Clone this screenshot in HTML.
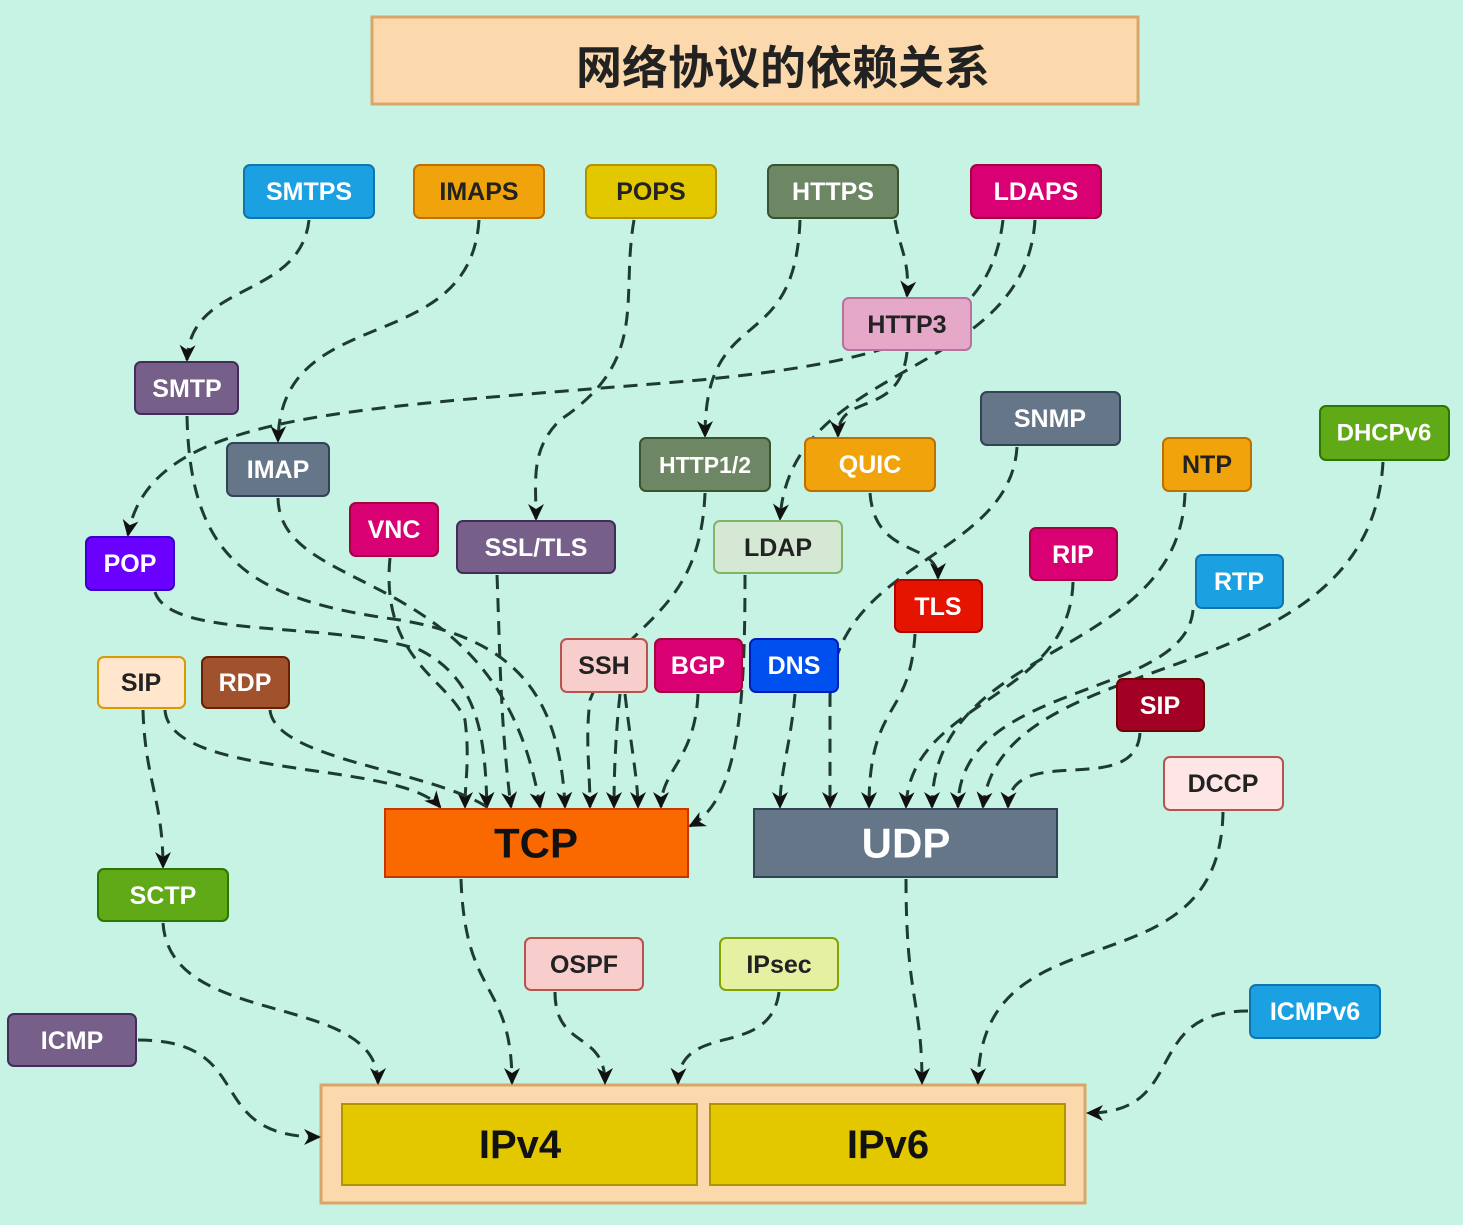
<!DOCTYPE html>
<html><head><meta charset="utf-8"><style>
html,body{margin:0;padding:0;background:#c6f3e3;}
svg{display:block}
.n{stroke-width:2;rx:6}
text{font-family:"Liberation Sans","Noto Sans CJK SC",sans-serif;font-weight:bold;text-anchor:middle;dominant-baseline:central}
.e{fill:none;stroke:#1e3b32;stroke-width:3;stroke-dasharray:14 9;marker-end:url(#a2)}
</style></head><body>
<svg width="1463" height="1225" viewBox="0 0 1463 1225">
<defs>
<marker id="a2" markerWidth="18" markerHeight="18" refX="15" refY="9" orient="auto" markerUnits="userSpaceOnUse"><path d="M0,1 L17,9 L0,17 L5,9z" fill="#111"/></marker></defs>
<rect width="1463" height="1225" fill="#c6f3e3"/>
<rect x="372" y="17" width="766" height="87" fill="#fbd9ad" stroke="#d9a66a" stroke-width="3"/>
<text x="783" y="68" font-size="46" fill="#222">网络协议的依赖关系</text>
<rect x="321" y="1085" width="764" height="118" fill="#fbd9ad" stroke="#d9a66a" stroke-width="3"/>
<rect x="342" y="1104" width="355" height="81" fill="#e3c800" stroke="#b09500" stroke-width="2"/>
<rect x="710" y="1104" width="355" height="81" fill="#e3c800" stroke="#b09500" stroke-width="2"/>
<text x="520" y="1145" font-size="40" fill="#111">IPv4</text>
<text x="888" y="1145" font-size="40" fill="#111">IPv6</text>
<g>
<path class="e" d="M309,220 C300,300 190,280 187,360"/>
<path class="e" d="M479,220 C470,360 280,300 278,441"/>
<path class="e" d="M634,220 C620,300 650,360 560,420 C530,450 536,480 536,519"/>
<path class="e" d="M800,220 C795,360 705,300 705,436"/>
<path class="e" d="M895,220 C900,250 910,260 907,296"/>
<path class="e" d="M1003,220 C990,330 900,360 700,380 C350,410 150,410 128,535"/>
<path class="e" d="M1035,220 C1025,380 790,360 780,519"/>
<path class="e" d="M907,352 C900,420 838,390 838,436"/>
<path class="e" d="M870,493 C875,560 938,540 938,578"/>
<path class="e" d="M187,416 C190,560 250,600 400,620 C520,640 560,700 565,807"/>
<path class="e" d="M278,498 C280,600 500,560 540,807"/>
<path class="e" d="M155,592 C170,640 330,620 420,650 C480,680 485,740 487,807"/>
<path class="e" d="M390,558 C380,660 450,680 465,720 C470,760 465,780 465,807"/>
<path class="e" d="M497,575 C500,650 500,720 511,807"/>
<path class="e" d="M705,493 C700,620 620,620 590,700 C585,740 590,770 590,807"/>
<path class="e" d="M620,694 C615,740 614,780 614,807"/>
<path class="e" d="M625,694 C630,740 638,780 638,807"/>
<path class="e" d="M698,694 C695,760 661,770 661,807"/>
<path class="e" d="M745,575 C745,700 740,800 690,826"/>
<path class="e" d="M165,710 C170,780 400,760 440,807"/>
<path class="e" d="M270,710 C275,760 430,770 487,807" style="marker-end:none"/>
<path class="e" d="M143,710 C145,780 163,800 163,867"/>
<path class="e" d="M795,694 C790,750 780,770 780,807"/>
<path class="e" d="M1017,447 C1010,560 830,560 830,700 C830,760 830,780 830,807"/>
<path class="e" d="M915,634 C910,720 869,700 869,807"/>
<path class="e" d="M1073,582 C1070,700 910,700 906,807"/>
<path class="e" d="M1185,493 C1180,660 932,640 932,807"/>
<path class="e" d="M1193,610 C1185,700 958,680 958,807"/>
<path class="e" d="M1383,462 C1370,700 1000,640 983,807"/>
<path class="e" d="M1140,733 C1135,800 1010,740 1008,807"/>
<path class="e" d="M461,879 C465,1000 512,980 512,1083"/>
<path class="e" d="M906,879 C906,1000 922,1000 922,1083"/>
<path class="e" d="M163,923 C170,1030 378,990 378,1083"/>
<path class="e" d="M138,1040 C260,1040 200,1137 319,1137"/>
<path class="e" d="M555,992 C555,1050 605,1030 605,1083"/>
<path class="e" d="M779,992 C770,1060 680,1020 678,1083"/>
<path class="e" d="M1223,812 C1220,1000 980,900 978,1083"/>
<path class="e" d="M1248,1011 C1140,1011 1190,1113 1088,1113"/>
</g>
<g font-size="25">
<rect class="n" x="244" y="165" width="130" height="53" fill="#1ba1e2" stroke="#0f75b0"/><text x="309" y="192" fill="#fff">SMTPS</text>
<rect class="n" x="414" y="165" width="130" height="53" fill="#f0a30a" stroke="#bd7000"/><text x="479" y="192" fill="#222">IMAPS</text>
<rect class="n" x="586" y="165" width="130" height="53" fill="#e3c800" stroke="#b09500"/><text x="651" y="192" fill="#222">POPS</text>
<rect class="n" x="768" y="165" width="130" height="53" fill="#6d8764" stroke="#3a5431"/><text x="833" y="192" fill="#fff">HTTPS</text>
<rect class="n" x="971" y="165" width="130" height="53" fill="#d80073" stroke="#a50040"/><text x="1036" y="192" fill="#fff">LDAPS</text>
<rect class="n" x="843" y="298" width="128" height="52" fill="#e6a8c8" stroke="#b5739d"/><text x="907" y="325" fill="#222">HTTP3</text>
<rect class="n" x="135" y="362" width="103" height="52" fill="#76608a" stroke="#432d57"/><text x="187" y="389" fill="#fff">SMTP</text>
<rect class="n" x="227" y="443" width="102" height="53" fill="#647687" stroke="#314354"/><text x="278" y="470" fill="#fff">IMAP</text>
<rect class="n" x="640" y="438" width="130" height="53" fill="#6d8764" stroke="#3a5431"/><text x="705" y="465" fill="#fff" font-size="23">HTTP1/2</text>
<rect class="n" x="805" y="438" width="130" height="53" fill="#f0a30a" stroke="#bd7000"/><text x="870" y="465" fill="#fff">QUIC</text>
<rect class="n" x="981" y="392" width="139" height="53" fill="#647687" stroke="#314354"/><text x="1050" y="419" fill="#fff">SNMP</text>
<rect class="n" x="1163" y="438" width="88" height="53" fill="#f0a30a" stroke="#bd7000"/><text x="1207" y="465" fill="#222">NTP</text>
<rect class="n" x="1320" y="406" width="129" height="54" fill="#60a917" stroke="#2d7600"/><text x="1384" y="433" fill="#fff" font-size="24">DHCPv6</text>
<rect class="n" x="350" y="503" width="88" height="53" fill="#d80073" stroke="#a50040"/><text x="394" y="530" fill="#fff">VNC</text>
<rect class="n" x="457" y="521" width="158" height="52" fill="#76608a" stroke="#432d57"/><text x="536" y="548" fill="#fff">SSL/TLS</text>
<rect class="n" x="714" y="521" width="128" height="52" fill="#d5e8d4" stroke="#82b366"/><text x="778" y="548" fill="#222">LDAP</text>
<rect class="n" x="86" y="537" width="88" height="53" fill="#6a00ff" stroke="#3700cc"/><text x="130" y="564" fill="#fff">POP</text>
<rect class="n" x="1030" y="528" width="87" height="52" fill="#d80073" stroke="#a50040"/><text x="1073" y="555" fill="#fff">RIP</text>
<rect class="n" x="1196" y="555" width="87" height="53" fill="#1ba1e2" stroke="#0f75b0"/><text x="1239" y="582" fill="#fff">RTP</text>
<rect class="n" x="895" y="580" width="87" height="52" fill="#e51400" stroke="#b20000"/><text x="938" y="607" fill="#fff">TLS</text>
<rect class="n" x="561" y="639" width="86" height="53" fill="#f8cecc" stroke="#b85450"/><text x="604" y="666" fill="#222">SSH</text>
<rect class="n" x="655" y="639" width="87" height="53" fill="#d80073" stroke="#a50040"/><text x="698" y="666" fill="#fff">BGP</text>
<rect class="n" x="750" y="639" width="88" height="53" fill="#0050ef" stroke="#001dbc"/><text x="794" y="666" fill="#fff">DNS</text>
<rect class="n" x="98" y="657" width="87" height="51" fill="#ffe6cc" stroke="#d79b00"/><text x="141" y="683" fill="#222">SIP</text>
<rect class="n" x="202" y="657" width="87" height="51" fill="#a0522d" stroke="#6d1f00"/><text x="245" y="683" fill="#fff">RDP</text>
<rect class="n" x="1117" y="679" width="87" height="52" fill="#a20025" stroke="#6f0000"/><text x="1160" y="706" fill="#fff">SIP</text>
<rect class="n" x="1164" y="757" width="119" height="53" fill="#ffe6e6" stroke="#b85450"/><text x="1223" y="784" fill="#222">DCCP</text>
<rect class="n" x="98" y="869" width="130" height="52" fill="#60a917" stroke="#2d7600"/><text x="163" y="896" fill="#fff">SCTP</text>
<rect class="n" x="525" y="938" width="118" height="52" fill="#f8cecc" stroke="#b85450"/><text x="584" y="965" fill="#222">OSPF</text>
<rect class="n" x="720" y="938" width="118" height="52" fill="#e6f0a3" stroke="#82a300"/><text x="779" y="965" fill="#222">IPsec</text>
<rect class="n" x="8" y="1014" width="128" height="52" fill="#76608a" stroke="#432d57"/><text x="72" y="1041" fill="#fff">ICMP</text>
<rect class="n" x="1250" y="985" width="130" height="53" fill="#1ba1e2" stroke="#0f75b0"/><text x="1315" y="1012" fill="#fff">ICMPv6</text>
</g>
<rect x="385" y="809" width="303" height="68" fill="#fa6800" stroke="#c73500" stroke-width="2"/>
<text x="536" y="843" font-size="42" fill="#111">TCP</text>
<rect x="754" y="809" width="303" height="68" fill="#647687" stroke="#314354" stroke-width="2"/>
<text x="906" y="843" font-size="42" fill="#fff">UDP</text>
</svg>
</body></html>
